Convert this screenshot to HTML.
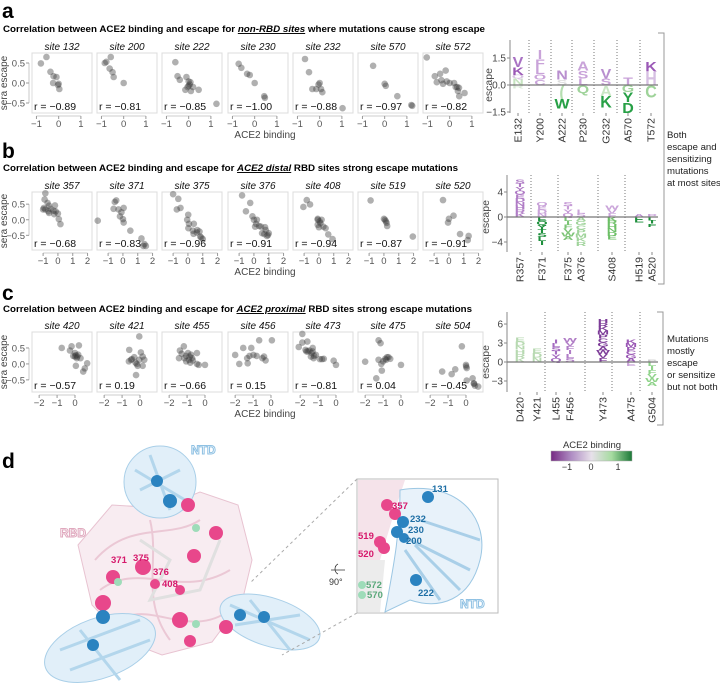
<!DOCTYPE html>
<html><head><meta charset="utf-8">
<style>
html,body{margin:0;padding:0;background:#fff;}
svg{display:block;font-family:"Liberation Sans",Arial,sans-serif;}
</style></head>
<body>
<svg id="fig" width="720" height="687" viewBox="0 0 720 687" xmlns="http://www.w3.org/2000/svg">
<text x="2" y="18" font-size="21" font-weight="bold">a</text>
<text x="3" y="32" font-size="9.6" font-weight="bold" textLength="482" lengthAdjust="spacingAndGlyphs">Correlation between ACE2 binding and escape for <tspan font-style="italic" text-decoration="underline">non-RBD sites</tspan> where mutations cause strong escape</text>
<text x="2" y="158" font-size="21" font-weight="bold">b</text>
<text x="3" y="171" font-size="9.6" font-weight="bold" textLength="455" lengthAdjust="spacingAndGlyphs">Correlation between ACE2 binding and escape for <tspan font-style="italic" text-decoration="underline">ACE2 distal</tspan> RBD sites strong escape mutations</text>
<text x="2" y="300" font-size="21" font-weight="bold">c</text>
<text x="3" y="312" font-size="9.6" font-weight="bold" textLength="469" lengthAdjust="spacingAndGlyphs">Correlation between ACE2 binding and escape for <tspan font-style="italic" text-decoration="underline">ACE2 proximal</tspan> RBD sites strong escape mutations</text>
<text x="2" y="468" font-size="21" font-weight="bold">d</text>

<path d="M658,33 H664 V284 H658" fill="none" stroke="#999" stroke-width="1"/>
<g font-size="9.6" fill="#222">
<text x="667" y="138">Both</text><text x="667" y="150">escape and</text><text x="667" y="162">sensitizing</text><text x="667" y="174">mutations</text><text x="667" y="186">at most sites</text></g>
<path d="M657,312 H663 V425 H657" fill="none" stroke="#999" stroke-width="1"/>
<g font-size="9.6" fill="#222">
<text x="667" y="342">Mutations</text><text x="667" y="354">mostly</text><text x="667" y="366">escape</text><text x="667" y="378">or sensitize</text><text x="667" y="390">but not both</text></g>

<defs><linearGradient id="cb" x1="0" x2="1">
<stop offset="0" stop-color="#762a83"/><stop offset="0.25" stop-color="#af8dc3"/><stop offset="0.5" stop-color="#e7e0ea"/><stop offset="0.75" stop-color="#a6dba0"/><stop offset="1" stop-color="#1b7837"/></linearGradient></defs>
<g>
<text x="592" y="448" font-size="9.5" text-anchor="middle" fill="#333">ACE2 binding</text>
<rect x="551" y="451" width="81" height="10" fill="url(#cb)" stroke="#aaa" stroke-width="0.5"/>
<g font-size="9" fill="#333" text-anchor="middle"><text x="567" y="470">−1</text><text x="591" y="470">0</text><text x="618" y="470">1</text></g>
</g>

<g>
<path d="M78,545 L112,505 L160,508 L200,492 L238,505 L252,560 L242,602 L212,642 L162,655 L128,642 L92,605 Z" fill="#f8ecf1" stroke="#e8c3d1" stroke-width="1"/>
<path d="M95,560 C130,520 170,540 200,520 M100,590 C140,560 180,600 230,570 M120,620 C150,600 190,640 230,610 M150,520 C160,560 140,600 170,640" fill="none" stroke="#ebc8d5" stroke-width="2"/>
<path d="M140,540 L170,560 L150,600 L200,590 L220,540" fill="none" stroke="#e0e0e0" stroke-width="3"/>
<ellipse cx="160" cy="482" rx="36" ry="36" fill="#e1eff9" stroke="#a9cfe8"/>
<path d="M135,470 L185,500 M140,490 L180,470 M150,455 L170,510" stroke="#b3d6ec" stroke-width="3"/>
<ellipse cx="100" cy="648" rx="58" ry="30" fill="#e1eff9" stroke="#a9cfe8" transform="rotate(-20 100 648)"/>
<path d="M60,650 L140,620 M70,670 L150,640 M80,630 L120,680" stroke="#b3d6ec" stroke-width="3"/>
<ellipse cx="270" cy="622" rx="52" ry="24" fill="#e1eff9" stroke="#a9cfe8" transform="rotate(18 270 622)"/>
<path d="M230,605 L310,640 M235,625 L300,615 M250,600 L290,650" stroke="#b3d6ec" stroke-width="3"/>
<g fill="#e8478b">
<circle cx="188" cy="505" r="7"/><circle cx="216" cy="533" r="7"/><circle cx="194" cy="556" r="7"/><circle cx="143" cy="567" r="8"/>
<circle cx="113" cy="577" r="7"/><circle cx="103" cy="603" r="8"/><circle cx="180" cy="620" r="8"/><circle cx="190" cy="641" r="6"/>
<circle cx="226" cy="627" r="7"/><circle cx="180" cy="590" r="5"/><circle cx="155" cy="584" r="5"/></g>
<g fill="#2b83c0"><circle cx="157" cy="481" r="6"/><circle cx="170" cy="501" r="7"/><circle cx="103" cy="617" r="7"/><circle cx="93" cy="645" r="6"/><circle cx="240" cy="615" r="6"/><circle cx="264" cy="617" r="6"/></g>
<g fill="#9edcb9"><circle cx="196" cy="528" r="4"/><circle cx="118" cy="582" r="4"/><circle cx="196" cy="624" r="4"/></g>
<text x="191" y="454" font-size="12" font-weight="bold" fill="#fff" stroke="#8fc1e3" stroke-width="1">NTD</text>
<text x="60" y="537" font-size="12" font-weight="bold" fill="#fff" stroke="#e0a9be" stroke-width="1">RBD</text>
<g font-size="9.5" font-weight="bold" fill="#d6186b"><text x="111" y="563">371</text><text x="133" y="561">375</text><text x="153" y="575">376</text><text x="162" y="587">408</text></g>
</g>
<path d="M357,479 L250,583 M357,613 L282,655" stroke="#aaa" stroke-dasharray="3,3" fill="none"/>
<g><path d="M331,570 H345 M338,564 C334,566 334,572 338,574" fill="none" stroke="#333" stroke-width="0.8"/><text x="329" y="585" font-size="9" fill="#333">90°</text></g>

<g>
<rect x="357" y="479" width="141" height="134" fill="#fff" stroke="#bbb"/>
<path d="M358,480 H405 L395,510 L380,560 L365,612 H358 Z" fill="#f5e3ea"/>
<path d="M358,560 H385 L380,612 H358 Z" fill="#ececec"/>
<path d="M400,490 C460,480 490,520 480,560 C470,600 440,610 410,600 L385,612 C395,560 400,530 400,490 Z" fill="#e8f2fa" stroke="#9cc7e3"/>
<path d="M410,540 L470,570 M415,545 L460,590 M405,550 L440,600 M420,520 L480,540" stroke="#a9cfe8" stroke-width="3"/>
<g fill="#e8478b"><circle cx="387" cy="505" r="6"/><circle cx="395" cy="514" r="6"/><circle cx="380" cy="542" r="6"/><circle cx="384" cy="548" r="6"/></g>
<g fill="#2b83c0"><circle cx="428" cy="497" r="6"/><circle cx="403" cy="522" r="6"/><circle cx="397" cy="532" r="6"/><circle cx="404" cy="538" r="5"/><circle cx="416" cy="580" r="6"/></g>
<g fill="#9edcb9"><circle cx="362" cy="585" r="4"/><circle cx="362" cy="595" r="4"/></g>
<g font-size="9.5" font-weight="bold" fill="#1f6fa5"><text x="432" y="492">131</text><text x="410" y="522">232</text><text x="408" y="533">230</text><text x="406" y="544">200</text><text x="418" y="596">222</text></g>
<g font-size="9.5" font-weight="bold" fill="#d6186b"><text x="392" y="509">357</text><text x="358" y="539">519</text><text x="358" y="557">520</text></g>
<g font-size="9.5" font-weight="bold" fill="#5aa87a"><text x="366" y="588">572</text><text x="367" y="598">570</text></g>
<text x="460" y="608" font-size="12" font-weight="bold" fill="#fff" stroke="#8fc1e3" stroke-width="1">NTD</text>
</g>
</svg>

<script>
const sitesA = ["site 132","site 200","site 222","site 230","site 232","site 570","site 572"];
const rA = ["r = −0.89","r = −0.81","r = −0.85","r = −1.00","r = −0.88","r = −0.97","r = −0.82"];
const xA = [
 [-0.8,-0.55,-0.37,-0.23,-0.1,-0.25,0,0.03,-0.03],
 [-0.85,-0.78,-0.58,-0.63,-0.5,-0.45,0],
 [-0.6,-0.5,-0.4,-0.1,0,0.05,-0.15,0.1,0.2,0.45,0,0.08,1.25,-0.05],
 [-0.72,-0.6,-0.34,-0.22,0,0.43,0.46],
 [-0.66,-0.48,-0.33,-0.15,-0.05,0,0.06,0.12,1.03],
 [-0.52,0,0.05,0.57,1.2,1.24],
 [-1.03,-0.67,-0.43,-0.18,-0.37,-0.58,-0.13,0,0.2,0.34,0.42,0.37,0.43,0.67,-0.3,0.27]];
const yA = [
 [0.49,0.65,0.28,0.17,0.15,0.0,-0.02,-0.15,-0.05],
 [0.5,0.53,0.65,0.36,0.27,0.15,0.0],
 [0.52,0.17,0.08,0.15,0.04,-0.04,-0.17,-0.2,-0.1,-0.17,-0.07,0.02,-0.52,-0.1],
 [0.48,0.38,0.23,0.2,0.0,-0.33,-0.37],
 [0.6,0.27,-0.15,-0.15,-0.04,0.0,-0.15,-0.23,-0.63],
 [0.43,-0.02,-0.07,-0.33,-0.55,-0.57],
 [0.64,0.17,0.23,0.31,0.07,0.02,0.04,0.0,0.0,-0.1,-0.12,-0.2,-0.33,-0.25,-0.02,-0.1]];

const sitesB = ["site 357","site 371","site 375","site 376","site 408","site 519","site 520"];
const rB = ["r = −0.68","r = −0.83","r = −0.96","r = −0.91","r = −0.94","r = −0.87","r = −0.91"];
const xB = [
 [-0.85,-0.9,-0.7,-0.95,-0.85,-0.6,-0.5,-0.6,-0.2,-0.3,-0.15,0,-0.25,0.06,0.17,-1.0,-0.65],
 [-1.7,-0.55,-0.45,-0.63,-0.3,-0.1,0.05,-0.2,0,0.05,0.5,1.25,1.45,1.55,1.38],
 [-1.0,-0.65,-0.75,-0.5,0.02,-0.05,0.07,0.4,0.03,0.33,0.63,0.78,0.38,0.83,1.0,0.9,0.6],
 [-0.8,-0.25,-0.54,-0.1,0,0.2,0.15,0.48,0.75,0.8,1.0,0.95,0.7,0.35,0.08,0.88,0.55],
 [-0.82,-0.6,-1.05,-0.08,0.05,-0.08,0.1,0,0.3,0.45,0.63,0.92,0.18,-0.08],
 [-0.9,0,0.07,0.18,0.22,0.13,1.95],
 [-0.4,0,-0.06,0.31,0.75,1.33,1.27]];
const yB = [
 [0.85,0.65,0.54,0.38,0.33,0.22,0.35,0.45,0.46,0.29,0.27,0.2,0.18,0.02,-0.14,0.33,0.27],
 [-0.03,0.57,0.62,0.35,0.33,0.24,0.38,0.11,0.02,-0.09,-0.35,-0.6,-0.78,-0.84,-0.84],
 [0.82,0.67,0.33,0.38,0.16,0.0,-0.13,-0.13,-0.27,-0.35,-0.33,-0.38,-0.45,-0.54,-0.62,-0.57,-0.41],
 [0.78,0.54,0.27,0.11,0.0,0.0,-0.13,-0.22,-0.24,-0.33,-0.43,-0.49,-0.46,-0.2,-0.22,-0.52,-0.43],
 [0.63,0.49,0.41,0.03,-0.05,-0.16,-0.11,-0.24,-0.22,-0.27,-0.47,-0.62,0.0,0.0],
 [0.62,0.03,0.0,-0.1,-0.2,-0.05,-0.54],
 [0.63,0.03,-0.09,0.13,-0.46,-0.52,-0.65]];

const sitesC = ["site 420","site 421","site 455","site 456","site 473","site 475","site 504"];
const rC = ["r = −0.57","r = 0.19","r = −0.66","r = 0.15","r = −0.81","r = 0.04","r = −0.45"];
const xC = [
 [-0.74,-0.28,-0.19,0.22,0,0.05,0.13,-0.1,0.18,0.31,0.05,0.68,0.46,0.55,0,0.1],
 [-0.6,-0.45,-0.32,-0.04,0.05,0.15,0.24,-0.04,-0.25,-0.18,-0.13,0.15,-0.22,-0.5,-0.62],
 [-1.45,-1.4,-1.18,-1.3,-1.05,-0.95,-0.85,-0.9,-0.78,-0.72,-1.05,-0.82,-0.45,-0.45,-0.35,0,-0.68,-1.15],
 [-2,-1.77,-1.55,-1.33,-1.2,-1.1,-0.98,-0.8,-0.66,-0.48,-0.39,-0.3,0.05,-1.3],
 [-2.08,-1.88,-1.88,-1.6,-1.7,-1.57,-1.48,-1.36,-1.3,-1.4,-1.22,-1.25,-1.12,-1.3,-0.9,-0.78,-0.68,-0.13,0,-1.65],
 [-1.25,-1.14,-2,-1.25,-1.1,-1.07,-1.38,-0.88,-0.78,-0.7,-0.6,-0.83,0,-1.0],
 [-0.23,0,0.01,0.04,-0.6,-1.33,-0.8,0.04,0.37,0.44,0.5,0.68,0.45]];
const yC = [
 [0.5,0.42,0.55,0.58,0.34,0.27,0.23,0.25,0.29,0.18,-0.06,0.02,-0.24,-0.14,0.23,0.18],
 [0.44,0.15,0.21,0.86,0.36,0.23,0.13,0.13,0.04,0.0,-0.06,-0.06,-0.35,0.13,0.08],
 [0.18,0.42,0.55,0.32,0.25,0.34,0.23,0.13,0.29,0.18,0.08,0.04,0.34,0.0,-0.03,-0.03,0.11,0.18],
 [0.28,0.0,0.5,0.18,0.25,0.5,0.28,0.25,0.74,0.18,0.23,0.11,0.74,0.02],
 [0.53,0.94,0.67,0.7,0.44,0.39,0.42,0.34,0.39,0.23,0.25,0.18,0.28,0.5,0.15,0.15,0.16,0.1,-0.03,0.39],
 [0.74,0.65,0.07,0.13,0.0,-0.21,-0.45,0.16,0.21,0.21,0.16,0.13,-0.03,0.08],
 [0.55,-0.03,-0.08,-0.13,-0.17,-0.24,-0.32,-0.52,-0.45,-0.61,-0.68,-0.71,-0.62]];

const xTicksA = [-1,0,1], xTicksB = [-1,0,1,2], xTicksC = [-2,-1,0];
const yTickVals = [0.5,0,-0.5];
const yTickLabels = ["0.5","0.0","−0.5"];

const logoALabels = ["E132","Y200","A222","P230","G232","A570","T572"];
const logoAPos = [
 [["N",0.35,"#c6e3c0"],["Q",0.2,"#d9c3e3"],["K",0.45,"#9b59b6"],["V",0.6,"#a972c4"]],
 [["C",0.3,"#c9a3d9"],["O",0.3,"#c9a3d9"],["L",0.4,"#c9a3d9"],["F",0.45,"#c9a3d9"],["I",0.5,"#c9a3d9"]],
 [["S",0.3,"#dcdcdc"],["N",0.5,"#b98fcf"]],
 [["L",0.35,"#c9a3d9"],["S",0.45,"#c9a3d9"],["A",0.5,"#c9a3d9"]],
 [["S",0.35,"#c9a3d9"],["V",0.55,"#b98fcf"]],
 [["T",0.45,"#c9a3d9"]],
 [["H",0.75,"#d6bfe2"],["K",0.55,"#9b59b6"]]];
const logoANeg = [
 [["R",0.2,"#d8ead5"]],
 [],
 [["(",0.75,"#b5deb0"],["W",0.55,"#27a046"]],
 [["Q",0.45,"#9fd39a"]],
 [["A",0.6,"#c9e6c4"],["K",0.65,"#27a046"]],
 [["G",0.4,"#9fd39a"],["Y",0.55,"#27a046"],["D",0.6,"#27a046"]],
 [["C",0.7,"#9fd39a"]]];

const logoBLabels = ["R357","F371","F375","A376","S408","H519","A520"];
const logoBPos = [6.0, 2.4, 2.4, 1.2, 1.8, 0.5, 0.5];
const logoBNeg = [0, -4.5, -3.7, -4.6, -3.6, -0.9, -1.6];
const logoBPosCol = ["#b07cc6","#c9a3d9","#c69bd6","#c9a3d9","#c9a3d9","#b98fcf","#c9a3d9"];
const logoBNegCol = ["#9fd39a","#1e8f3c","#7cc476","#9fd39a","#6cbf66","#1e8f3c","#1e8f3c"];

const logoCLabels = ["D420","Y421","L455","F456","Y473","A475","G504"];
const logoCPos = [3.9, 2.1, 3.5, 3.8, 6.8, 3.5, 0.4];
const logoCNeg = [0, 0, 0, 0, 0, -0.6, -3.8];
const logoCPosCol = ["#b7d9b1","#b7d9b1","#a46bc0","#b07cc6","#7d3c98","#9b59b6","#cccccc"];
const logoCNegCol = ["#9fd39a","#9fd39a","#9fd39a","#9fd39a","#9fd39a","#c9a3d9","#8fd38a"];
const logoTicksA = [1.5,0,-1.5], logoTicksB = [4,0,-4], logoTicksC = [6,3,0,-3];

const NS = "http://www.w3.org/2000/svg";
const svg = document.getElementById("fig");
function mk(tag, attrs, parent){
  const e = document.createElementNS(NS, tag);
  for (const k in attrs) e.setAttribute(k, attrs[k]);
  (parent||svg).appendChild(e);
  return e;
}
const PANEL_X = [32, 97, 162, 228, 293, 358, 423], PW = 60;

function scatterRow(cfg, sites, rs, xs, ys, xticks){
  const g = mk("g", {});
  
  
  const xS = (px, v) => px + (v - cfg.xd[0]) / (cfg.xd[1] - cfg.xd[0]) * PW;
  const yS = v => cfg.top + (cfg.yd[0] - v) / (cfg.yd[0] - cfg.yd[1]) * (cfg.bot - cfg.top);
  for (let i = 0; i < sites.length; i++){
    const px = PANEL_X[i];
    const pg = mk("g", {}, g);
    
    
    mk("rect", {x:px, y:cfg.top, width:PW, height:cfg.bot-cfg.top, fill:"#fff", stroke:"#dcdcdc", "stroke-width":1}, pg);
    const t = mk("text", {x:px+PW/2, y:cfg.top-3, "font-size":10, "font-style":"italic", "text-anchor":"middle", fill:"#111"}, pg);
    t.textContent = sites[i];
    
    
    for (let j = 0; j < xs[i].length; j++){
      const c = mk("circle", {cx:xS(px, xs[i][j]), cy:yS(ys[i][j]), r:3.3, fill:"#3a3a3a", "fill-opacity":0.4}, pg);
      
      
    }
    const r = mk("text", {x:px+2, y:cfg.bot-3, "font-size":10.5, fill:"#111"}, pg);
    r.textContent = rs[i];
    
    
    const ay = cfg.bot + 3;
    mk("line", {x1:xS(px, xticks[0]), x2:xS(px, xticks[xticks.length-1]), y1:ay, y2:ay, stroke:"#bbb", "stroke-width":0.8}, pg);
    xticks.forEach(v => {
      mk("line", {x1:xS(px,v), x2:xS(px,v), y1:ay, y2:ay+3, stroke:"#999"}, pg);
      const tl = mk("text", {x:xS(px,v), y:ay+11, "font-size":9.5, "text-anchor":"middle", fill:"#555"}, pg);
      tl.textContent = v < 0 ? "−" + Math.abs(v) : String(v);
      
      
    });
  }
  const ax = 29;
  mk("line", {x1:ax, x2:ax, y1:yS(yTickVals[0]), y2:yS(yTickVals[2]), stroke:"#bbb", "stroke-width":0.8}, g);
  yTickVals.forEach((v, k) => {
    mk("line", {x1:ax-3, x2:ax, y1:yS(v), y2:yS(v), stroke:"#999"}, g);
    const tl = mk("text", {x:ax-4, y:yS(v)+3.5, "font-size":9.5, "text-anchor":"end", fill:"#555"}, g);
    tl.textContent = yTickLabels[k];
    
    
  });
  const yl = mk("text", {x:0, y:0, "font-size":10, "text-anchor":"middle", fill:"#444", transform:`translate(7,${(cfg.top+cfg.bot)/2}) rotate(-90)`}, g);
  yl.textContent = "sera escape";
  
  
  const xl = mk("text", {x:265, y:cfg.bot+25, "font-size":10, "text-anchor":"middle", fill:"#444"}, g);
  xl.textContent = "ACE2 binding";
  
  
}

scatterRow({name:"scatter-row-a", top:53, bot:113, yd:[0.75,-0.75], xd:[-1.2,1.5]}, sitesA, rA, xA, yA, xTicksA);
scatterRow({name:"scatter-row-b", top:192, bot:250, yd:[0.89,-0.97], xd:[-1.75,2.3]}, sitesB, rB, xB, yB, xTicksB);
scatterRow({name:"scatter-row-c", top:332, bot:392, yd:[1.0,-0.88], xd:[-2.4,0.95]}, sitesC, rC, xC, yC, xTicksC);

function letter(g, ch, cx, yBase, h, w, col){
  const sy = h / 7.2, sx = w / 7.5;
  const t = mk("text", {x:0, y:0, "font-size":10, "font-weight":"bold", "text-anchor":"middle", fill:col,
    transform:`translate(${cx},${yBase}) scale(${sx},${sy})`}, g);
  t.textContent = ch;
  
  
}
function logoAxes(cfg, labels, ticks){
  const g = mk("g", {});
  
  
  mk("line", {x1:cfg.ax, x2:cfg.ax, y1:cfg.top, y2:cfg.bot, stroke:"#888"}, g);
  ticks.forEach(v => {
    const y = cfg.zero - v * cfg.k;
    mk("line", {x1:cfg.ax-3, x2:cfg.ax, y1:y, y2:y, stroke:"#888"}, g);
    const tl = mk("text", {x:cfg.ax-4, y:y+3.5, "font-size":10, "text-anchor":"end", fill:"#444"}, g);
    tl.textContent = v < 0 ? "−" + Math.abs(v) : (cfg.dec ? v.toFixed(1) : String(v));
    
    
  });
  const yl = mk("text", {x:0, y:0, "font-size":10.5, "text-anchor":"middle", fill:"#444", transform:`translate(${cfg.ax-18},${cfg.zero}) rotate(-90)`}, g);
  yl.textContent = "escape";
  
  
  cfg.seps.forEach(x => mk("line", {x1:x, x2:x, y1:cfg.top, y2:cfg.bot, stroke:"#777", "stroke-dasharray":"1,2"}, g));
  labels.forEach((lab, i) => {
    const x = cfg.xs[i];
    mk("line", {x1:x, x2:x, y1:cfg.bot, y2:cfg.bot+3, stroke:"#888"}, g);
    const tl = mk("text", {x:0, y:0, "font-size":10.5, "text-anchor":"end", fill:"#333", transform:`translate(${x+3.5},${cfg.bot+5}) rotate(-90)`}, g);
    tl.textContent = lab;
    
    
  });
  return g;
}

const cfgA = {name:"logo-a", ax:510, top:40, bot:113, zero:85, k:18, dec:true, xs:[518,540,562,583,606,628,651], seps:[529,551,572,594,617,640]};
const gA = logoAxes(cfgA, logoALabels, logoTicksA);
logoAPos.forEach((stack, i) => { let y = cfgA.zero; stack.forEach(s => { letter(gA, s[0], cfgA.xs[i], y, s[1]*cfgA.k, 12, s[2]); y -= s[1]*cfgA.k; }); });
logoANeg.forEach((stack, i) => { let y = cfgA.zero; stack.forEach(s => { y += s[1]*cfgA.k; letter(gA, s[0], cfgA.xs[i], y, s[1]*cfgA.k, 12, s[2]); }); });
mk("line", {x1:cfgA.ax, x2:658, y1:cfgA.zero, y2:cfgA.zero, stroke:"#777", "stroke-width":1.2}, gA);

function fillLogo(g, cfg, pos, neg, pcol, ncol){
  const letters = "KRHNDEQYTSLIFVWAGCPM";
  pos.forEach((v, i) => {
    const n = Math.max(1, Math.round(v * 1.6));
    const h = v * cfg.k / n; let y = cfg.zero;
    for (let j = 0; j < n; j++){ letter(g, letters[(i*3+j)%20], cfg.xs[i], y, h, 11, pcol[i]); y -= h; }
  });
  neg.forEach((v, i) => {
    if (v >= 0) return;
    const n = Math.max(1, Math.round(-v * 1.6));
    const h = -v * cfg.k / n; let y = cfg.zero;
    for (let j = 0; j < n; j++){ y += h; letter(g, letters[(i*5+j)%20], cfg.xs[i], y, h, 11, ncol[i]); }
  });
  mk("line", {x1:cfg.ax, x2:658, y1:cfg.zero, y2:cfg.zero, stroke:"#777", "stroke-width":1.2}, g);
}
const cfgB = {name:"logo-b", ax:507, top:175, bot:252, zero:217, k:6.25, xs:[520,542,568,581,612,639,652], seps:[531,558,598,625]};
const gB = logoAxes(cfgB, logoBLabels, logoTicksB);
fillLogo(gB, cfgB, logoBPos, logoBNeg, logoBPosCol, logoBNegCol);
const cfgC = {name:"logo-c", ax:507, top:312, bot:392, zero:362, k:6.33, xs:[520,537,556,570,603,631,652], seps:[545,585,612,640]};
const gC = logoAxes(cfgC, logoCLabels, logoTicksC);
fillLogo(gC, cfgC, logoCPos, logoCNeg, logoCPosCol, logoCNegCol);
</script>
</body></html>
